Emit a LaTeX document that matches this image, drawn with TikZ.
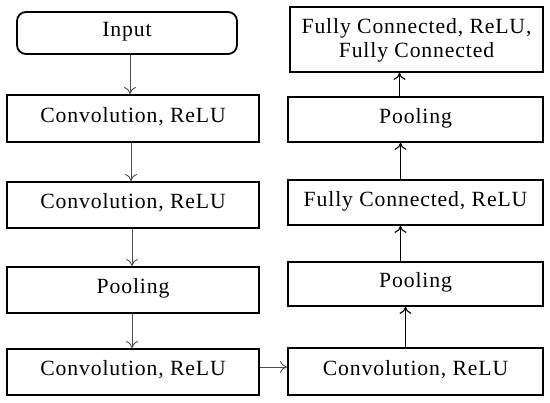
\documentclass[tikz,border=0pt]{standalone}
\usepackage{fontspec}
\setmainfont{Liberation Serif}[LetterSpace=4]
\usetikzlibrary{arrows.meta}
\begin{document}
\begin{tikzpicture}[x=1pt,y=-1pt,
  box/.style={draw=black,line width=1.8pt,fill=white,inner sep=0pt,align=center,
    font=\fontsize{21.7}{24}\selectfont,text depth=8pt},
  arrg/.style={-{To[length=7pt,width=12pt]},draw=black!70,line width=0.9pt},
  arrk/.style={-{To[length=7pt,width=12pt]},draw=black,line width=1.1pt}]
\useasboundingbox (0,0) rectangle (550,403);
\node[box,rounded corners=9pt,minimum width=220pt,minimum height=42pt] (inp) at (127,33) {Input};
\node[box,minimum width=252pt,minimum height=47pt] (c1) at (133,118.5) {Convolution, ReLU};
\node[box,minimum width=252pt,minimum height=46pt] (c2) at (133,205) {Convolution, ReLU};
\node[box,minimum width=252pt,minimum height=46pt] (pl) at (133,290) {Pooling};
\node[box,minimum width=252pt,minimum height=46pt] (c4) at (133,372) {Convolution, ReLU};
\node[box,minimum width=255pt,minimum height=47pt] (cr) at (415.5,371.5) {Convolution, ReLU};
\node[box,minimum width=255pt,minimum height=44pt] (pr) at (415.5,284) {Pooling};
\node[box,minimum width=255pt,minimum height=45pt] (fc) at (415.5,202.5) {Fully Connected, ReLU};
\node[box,minimum width=255pt,minimum height=45pt] (pt) at (415.5,119.5) {Pooling};
\node[box,minimum width=253pt,minimum height=65pt,text depth=3pt] (top) at (416.5,39.5) {Fully Connected, ReLU,\\Fully Connected};
\draw[arrg] ([xshift=3pt]inp.south) -- ([xshift=3pt]inp.south |- c1.north);
\draw[arrg] ([xshift=-2pt]c1.south) -- ([xshift=-2pt]c1.south |- c2.north);
\draw[arrg] ([xshift=-1pt]c2.south) -- ([xshift=-1pt]c2.south |- pl.north);
\draw[arrg] ([xshift=-1pt]pl.south) -- ([xshift=-1pt]pl.south |- c4.north);
\draw[arrg] ([yshift=5pt]c4.east) -- ([yshift=5pt]c4.east -| cr.west);
\draw[arrk] ([xshift=-10pt]cr.north) -- ([xshift=-10pt]cr.north |- pr.south);
\draw[arrk] ([xshift=-15pt]pr.north) -- ([xshift=-15pt]pr.north |- fc.south);
\draw[arrk] ([xshift=-15pt]fc.north) -- ([xshift=-15pt]fc.north |- pt.south);
\draw[arrk] ([xshift=-16pt]pt.north) -- ([xshift=-16pt]pt.north |- top.south);
\end{tikzpicture}
\end{document}
